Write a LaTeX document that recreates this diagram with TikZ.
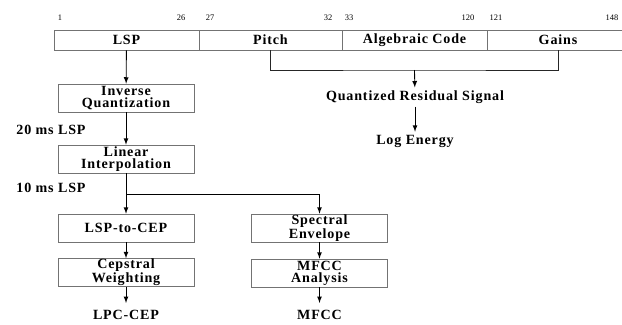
\documentclass[tikz,border=0pt]{standalone}
\usepackage{fontspec}
\setmainfont{Liberation Serif}
\newfontfamily\diafont[LetterSpace=6]{Liberation Serif}
\usetikzlibrary{positioning,arrows}

\begin{document}
\begin{tikzpicture}[
	  x=0.025cm, y=-0.025cm,
	  %style for arrows
	  arrw/.style={semithick, ->, >=latex},
	  % style for plain lines
	  ln/.style={semithick, draw=black!85},
	  % style for the frame fields
	  fld/.style={rectangle, draw=black!55, minimum height=0.5cm, inner sep=0pt,
	    font=\diafont\bfseries\fontsize{10}{8.6}\selectfont},
	  % style for the processing boxes
	  blk/.style={rectangle, draw=black!55, minimum width=3.4cm, minimum height=0.7cm,
	    inner sep=0pt, align=center, font=\diafont\bfseries\fontsize{10}{8.6}\selectfont},
	  % style for plain texts
	  txt/.style={inner sep=2pt, font=\diafont\bfseries\fontsize{10}{8.6}\selectfont},
	  % style for bit numbers
	  num/.style={inner sep=0pt, font=\fontsize{6}{6}\selectfont}]

      \useasboundingbox (0,0) rectangle (622,324);

      % frame fields
      \node[fld, minimum width=3.625cm](lsp) at (126.5,40){LSP};
      \node[fld, minimum width=3.575cm](pitch) at (270.5,40){Pitch};
      \node[fld, minimum width=3.625cm](algc) at (414.5,40){Algebraic Code};
      \node[fld, minimum width=3.55cm](gains) at (558,40){Gains};

      % bit numbers
      \node[num](b1) at (60,18){1};
      \node[num](b26) at (181,18){26};
      \node[num](b27) at (210,18){27};
      \node[num](b32) at (328,18){32};
      \node[num](b33) at (349,18){33};
      \node[num](b120) at (468,18){120};
      \node[num](b121) at (496,18){121};
      \node[num](b148) at (612,18){148};

      % residual branch
      \coordinate (jn) at (414.5,70);
      \node[txt](qrs) at (415,97){Quantized Residual Signal};
      \node[txt](loge) at (415,141){Log Energy};
      \draw[ln] (pitch.south) |- (jn) -| (gains.south);
      \draw[arrw] (jn) -- (qrs);
      \draw[arrw] (qrs) -- (loge);

      % LSP branch
      \node[blk](invq) at (126,98){Inverse\\Quantization};
      \node[blk](linint) at (126,159){Linear\\Interpolation};
      \node[blk](l2c) at (126,228){LSP-to-CEP};
      \node[blk](cepw) at (126,272.5){Cepstral\\Weighting};
      \node[blk](specenv) at (319.5,228){Spectral\\Envelope};
      \node[blk](mfcca) at (319.5,273){MFCC\\Analysis};
      \node[txt](lpccep) at (126,315){LPC-CEP};
      \node[txt](mfcc) at (319.5,315){MFCC};

      \node[txt](ms20) at (51,130){20 ms LSP};
      \node[txt](ms10) at (51,188){10 ms LSP};

      \coordinate (split) at (126,194);
      \draw[arrw] (lsp) -- (invq);
      \draw[arrw] (invq) -- (linint);
      \draw[arrw] (linint) -- (l2c);
      \draw[arrw] (split) -| (specenv);
      \draw[arrw] (l2c) -- (cepw);
      \draw[arrw] (specenv) -- (mfcca);
      \draw[arrw, shorten >=3pt] (cepw) -- (lpccep);
      \draw[arrw, shorten >=3pt] (mfcca) -- (mfcc);

\end{tikzpicture}
\end{document}
